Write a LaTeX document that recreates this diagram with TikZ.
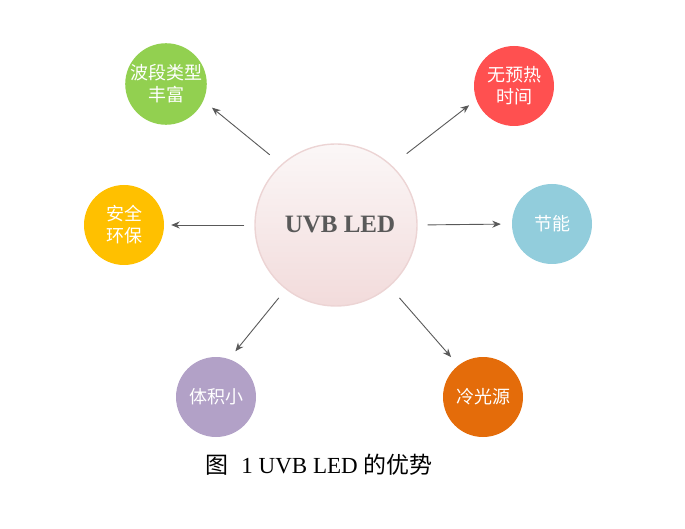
\documentclass[tikz,border=0pt]{standalone}
\usepackage{fontspec}
\setmainfont{Liberation Serif}
\newfontfamily\cjk{Noto Sans CJK SC}
\usepackage{tikz}
\usetikzlibrary{arrows.meta}
\definecolor{ledGreen}{RGB}{146,208,80}
\definecolor{ledRed}{RGB}{255,80,80}
\definecolor{ledYellow}{RGB}{255,192,0}
\definecolor{ledBlue}{RGB}{146,205,220}
\definecolor{ledPurple}{RGB}{178,161,199}
\definecolor{ledOrange}{RGB}{228,108,10}
\definecolor{ledTop}{RGB}{251,247,247}
\definecolor{ledBottom}{RGB}{242,219,219}
\definecolor{ledRim}{RGB}{236,212,212}
\definecolor{ledText}{RGB}{89,89,89}

\begin{document}
\begin{tikzpicture}[x=1pt,y=-1pt,
    merit/.style={circle, minimum size=80pt, inner sep=0pt, text=white, align=center,
        font=\cjk\fontsize{18}{22}\selectfont},
    pointer/.style={draw=ledText, line width=0.9pt, -{Stealth[length=8.5pt,width=7pt]}}]
    \useasboundingbox (0,0) rectangle (685,529);

    \node[circle, minimum size=162pt, draw=ledRim, line width=1.4pt,
        top color=ledTop, bottom color=ledBottom, text=ledText,
        font=\fontsize{25}{30}\selectfont\bfseries] (hub) at (336,225) {\hspace{8pt}UVB LED};

    \node[merit, fill=ledGreen] (spectrum) at (166,84) {波段类型\\丰富};
    \node[merit, fill=ledRed] (instant) at (514,86) {无预热\\时间};
    \node[merit, fill=ledYellow] (green) at (124,225) {安全\\环保};
    \node[merit, fill=ledBlue] (saving) at (552,224) {节能};
    \node[merit, fill=ledPurple] (compact) at (216,397) {体积小};
    \node[merit, fill=ledOrange] (cold) at (483,397) {冷光源};

    \draw[pointer, shorten <=15pt, shorten >=11pt] (hub.132) -- (spectrum.-24);
    \draw[pointer, shorten <=19pt, shorten >=9pt] (hub.47) -- (instant.200);
    \draw[pointer, shorten <=10pt, shorten >=7pt] (hub.180) -- (green.0);
    \draw[pointer, shorten <=10pt, shorten >=11pt] (hub.0) -- (saving.180);
    \draw[pointer, shorten <=11pt, shorten >=10pt] (hub.232) -- (compact.71);
    \draw[pointer, shorten <=15pt, shorten >=11pt] (hub.-49) -- (cold.128);

    \node[font=\fontsize{23}{27}\selectfont] (caption) at (319,465)
        {{\cjk 图}\hspace{13pt}1 UVB LED {\cjk 的优势}};
\end{tikzpicture}
\end{document}
